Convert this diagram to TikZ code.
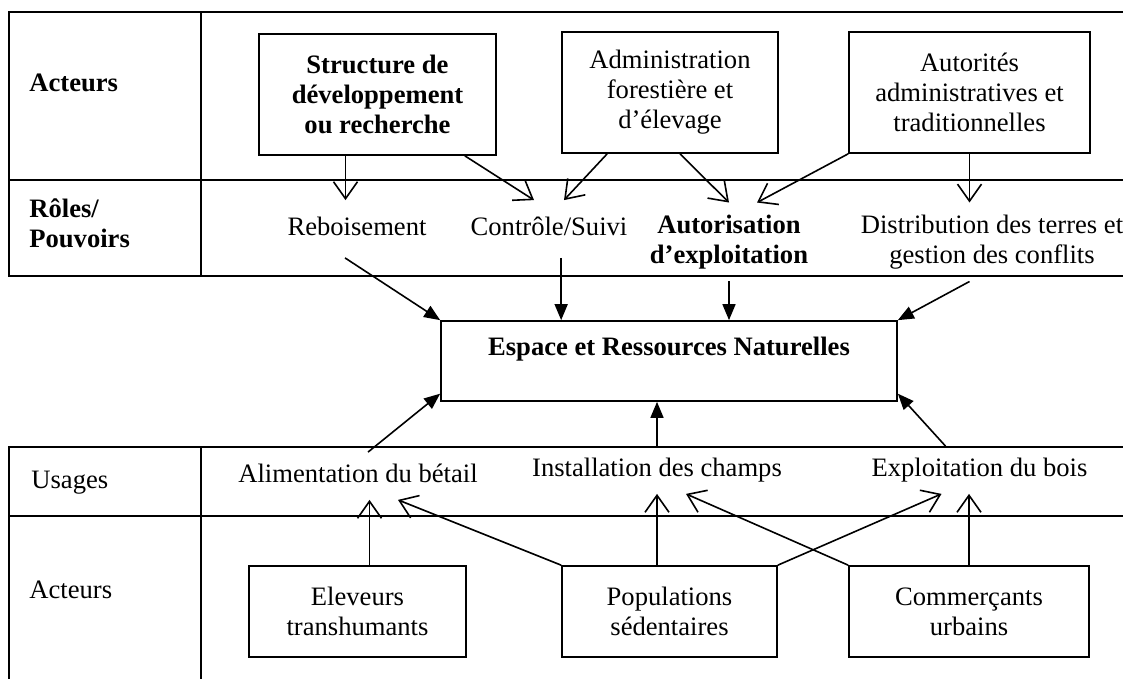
\documentclass[tikz,border=0pt]{standalone}
\usepackage{fontspec}
\setmainfont{Liberation Serif}
\usetikzlibrary{arrows.meta, positioning, calc}
\newcommand{\diafont}{\fontsize{13.3}{15}\selectfont}
\tikzset{
  actbox/.style={draw=black, line width=0.85pt, align=center,
                 inner sep=2pt, font=\diafont},
  boldbox/.style={actbox, font=\diafont\bfseries},
  roletext/.style={align=center, inner xsep=2pt, inner ysep=6pt, font=\diafont},
  oneline/.style={text height=9pt, text depth=2.5pt, inner ysep=8.5pt},
  usetext/.style={text height=9pt, text depth=2.5pt, inner xsep=2pt,
                  inner ysep=6pt, font=\diafont},
  rowlabel/.style={anchor=west, align=left, inner sep=0pt, font=\diafont},
  openarr/.style={line width=0.8pt, -{Straight Barb[length=8.5pt,width=12pt]}},
  fillarr/.style={line width=0.8pt, -{Triangle[length=8pt,width=6.5pt]}},
  tableline/.style={line width=0.9pt},
}

\begin{document}
\begin{tikzpicture}[x=0.5pt, y=-0.5pt]
    \useasboundingbox (0,0) rectangle (1123,679);
    % Upper table (actors and roles)
    \draw[tableline] (1123,12) -- (9,12) -- (9,276) -- (1123,276);
    \draw[tableline] (9,180) -- (1123,180);
    \draw[tableline] (201,12) -- (201,276);
    % Lower table (uses and actors)
    \draw[tableline] (1123,447) -- (9,447) -- (9,679);
    \draw[tableline] (9,516) -- (1123,516);
    \draw[tableline] (201,447) -- (201,679);
    % Row labels
    \node[rowlabel, font=\diafont\bfseries] (lacteurs) at (29,83) {Acteurs};
    \node[rowlabel, font=\diafont\bfseries] (lroles) at (29,223) {Rôles/\\Pouvoirs};
    \node[rowlabel] (lusages) at (31,483) {Usages};
    \node[rowlabel] (lacteursb) at (29,590) {Acteurs};
    % Institutional actors
    \node[boldbox, minimum width=118.5pt, minimum height=60.5pt] (struct) at (377.5,94.5)
      {Structure de\\développement\\ou recherche};
    \node[actbox, minimum width=108pt, minimum height=60.5pt] (adm) at (670,92.5)
      {Administration\\forestière et\\d’élevage};
    \node[actbox, minimum width=120.5pt, minimum height=60.5pt] (aut) at (969.5,92.5)
      {Autorités\\administratives et\\traditionnelles};
    % Roles / powers
    \node[roletext, oneline] (reb) at (357,229) {Reboisement};
    \node[roletext, oneline] (ctrl) at (549,229) {Contrôle/Suivi};
    \node[roletext, font=\diafont\bfseries] (autor) at (729,242) {Autorisation\\d’exploitation};
    \node[roletext] (dist) at (992,242) {Distribution des terres et\\gestion des conflits};
    % Central resource
    \node[boldbox, minimum width=228pt, minimum height=40pt] (esp) at (669,361)
      {Espace et Ressources Naturelles\\\mbox{}};
    % Uses
    \node[usetext] (alim) at (358,476) {Alimentation du bétail};
    \node[usetext] (inst) at (657,470) {Installation des champs};
    \node[usetext] (expl) at (979.5,470) {Exploitation du bois};
    % Local actors
    \node[actbox, minimum width=108.5pt, minimum height=45.5pt] (elev) at (357.5,611.5)
      {Eleveurs\\transhumants};
    \node[actbox, minimum width=107.5pt, minimum height=45.5pt] (pop) at (669.5,611.5)
      {Populations\\sédentaires};
    \node[actbox, minimum width=120pt, minimum height=45.5pt] (comm) at (969,611.5)
      {Commerçants\\urbains};
    % Actors -> roles
    \draw[openarr] ([xshift=-16pt]struct.south) -- ([xshift=-16pt]struct.south |- reb.north);
    \draw[openarr] ([xshift=-16pt]struct.south east) -- ([xshift=-7.5pt]ctrl.north);
    \draw[openarr] ([xshift=23pt]adm.south west) -- ([xshift=7.5pt]ctrl.north);
    \draw[openarr] ([xshift=5pt]adm.south) -- (autor.north);
    \draw[openarr] (aut.south west) -- ([xshift=14pt]autor.north);
    \draw[openarr] (aut.south) -- (aut.south |- dist.north);
    % Roles -> resource
    \draw[fillarr] ([xshift=-6pt]reb.south) -- (esp.north west);
    \draw[fillarr] (adm.south west |- ctrl.south) -- (adm.south west |- esp.north);
    \draw[fillarr] (autor.south) -- (autor.south |- esp.north);
    \draw[fillarr] (aut.south |- dist.south) -- (esp.north east);
    % Uses -> resource
    \draw[fillarr] ([xshift=5pt]alim.north) -- ($(esp.south west)!0.1!(esp.north west)$);
    \draw[fillarr] (inst.north) -- (inst.north |- esp.south);
    \draw[fillarr] ([xshift=-17pt]expl.north) -- ($(esp.south east)!0.1!(esp.north east)$);
    % Local actors -> uses
    \draw[openarr] ([xshift=6pt]elev.north) -- ([xshift=6pt]elev.north |- alim.south);
    \draw[openarr] (pop.north west) -- ([xshift=20pt]alim.south);
    \draw[openarr] (inst.south |- pop.north) -- (inst.south);
    \draw[openarr] (pop.north east) -- ([xshift=-19pt]expl.south);
    \draw[openarr] (comm.north west) -- ([xshift=14.5pt]inst.south);
    \draw[openarr] (comm.north) -- (comm.north |- expl.south);
  \end{tikzpicture}
\end{document}
